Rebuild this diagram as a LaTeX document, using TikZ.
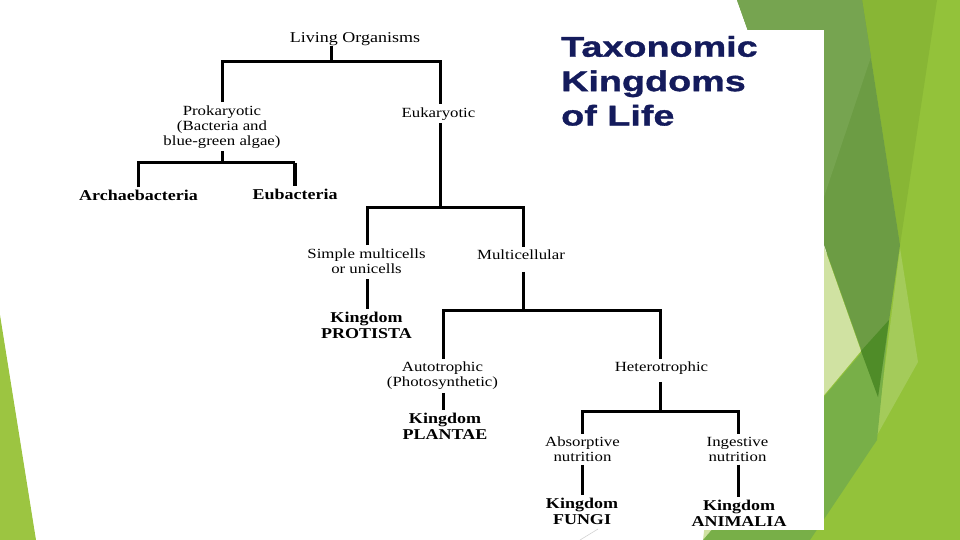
\documentclass[tikz,border=0pt]{standalone}
\usepackage{fontspec}
\newfontfamily\dgm[FakeStretch=1.2]{Liberation Serif}
\newfontfamily\ttlfont[FakeStretch=1.32,BoldFeatures={FakeBold=1.2}]{Liberation Sans}
\newcommand\tightlines{\lineskiplimit=-50pt\relax\lineskip=0pt\relax}
\definecolor{cBase}{HTML}{93C23A}
\definecolor{cV}{HTML}{88B635}
\definecolor{cOlive}{HTML}{6C9C44}
\definecolor{cOliveL}{HTML}{76A450}
\definecolor{cPale}{HTML}{D0E2A2}
\definecolor{cLight}{HTML}{A4CB5A}
\definecolor{cMed}{HTML}{78AF48}
\definecolor{cDark}{HTML}{4F8C28}
\definecolor{cLeft}{HTML}{9CC541}
\definecolor{cNavy}{HTML}{141B5C}
\begin{document}
\begin{tikzpicture}[x=1pt,y=-1pt,
  lbl/.style={font=\dgm\fontsize{14}{15}\selectfont, align=center, inner sep=3pt},
  kbox/.style={font=\dgm\bfseries\fontsize{15}{16}\selectfont, align=center, inner sep=3pt},
  conn/.style={draw=black, line width=3pt, line join=miter}]
\useasboundingbox (0,0) rectangle (960,540);
% slide decoration facets
\fill[cBase] (840,0) -- (960,0) -- (960,540) -- (805,540) -- (824,300) -- cycle;
\fill[cPale] (758,60) -- (861,351) -- (703,540) -- cycle;
\fill[cLight] (900,248) -- (918,362) -- (876,437) -- cycle;
\fill[cMed] (703,540) -- (889,320) -- (877,440) -- (810,540) -- cycle;
\fill[cV] (862,0) -- (937,0) -- (900,245) -- cycle;
\fill[cOlive] (737,0) -- (862,0) -- (900,245) -- (878,397) -- cycle;
\fill[cOliveL] (737,0) -- (862,0) -- (871,57) -- (823,200) -- (808,200) -- cycle;
\fill[cDark] (861,351) -- (889,320) -- (878,397) -- cycle;
\fill[white] (690,30) rectangle (824,530);
\fill[cLeft] (0,315) -- (36,540) -- (0,540) -- cycle;
\draw[gray!35, line width=0.6pt] (580,540) -- (598,529);
% title
\node[anchor=north west, inner sep=0pt, align=left, text=cNavy,
  font=\ttlfont\bfseries\fontsize{28.6}{34.4}\selectfont\tightlines]
  (title) at (561,35.8) {Taxonomic\\Kingdoms\\of Life};
% nodes
\node[lbl, font=\dgm\fontsize{15}{16}\selectfont, inner sep=1pt] (living) at (355,38.7) {Living Organisms};
\node[lbl] (pro) at (222,126.7) {Prokaryotic\\(Bacteria and\\blue-green algae)};
\node[lbl] (euk) at (438.5,113.7) {Eukaryotic};
\node[kbox] (arch) at (138.5,195.8) {Archaebacteria};
\node[kbox] (eub) at (295,194.2) {Eubacteria};
\node[lbl] (simple) at (366.5,260.8) {Simple multicells\\or unicells};
\node[lbl] (multi) at (521,254.7) {Multicellular};
\node[kbox] (prot) at (366.5,325) {Kingdom\\PROTISTA};
\node[lbl] (auto) at (442.5,375.8) {Autotrophic\\(Photosynthetic)};
\node[lbl] (het) at (661.5,368.3) {Heterotrophic};
\node[kbox] (plan) at (445,426.7) {Kingdom\\PLANTAE};
\node[lbl] (abs) at (582.5,449.2) {Absorptive\\nutrition};
\node[lbl] (ing) at (737.5,449.2) {Ingestive\\nutrition};
\node[kbox] (fungi) at (582,511.3) {Kingdom\\FUNGI};
\node[kbox] (anim) at (739,513) {Kingdom\\ANIMALIA};
% junction coordinates
\coordinate (b1m) at (331,62);
\coordinate (b1l) at (222,62);
\coordinate (b1r) at (440,62);
\coordinate (b2l) at (138,163);
\coordinate (b2r) at (295,163);
\coordinate (b3l) at (367,207);
\coordinate (b3r) at (523,207);
\coordinate (b4l) at (443,310);
\coordinate (b4r) at (660,310);
\coordinate (b5l) at (582,411);
\coordinate (b5r) at (738,411);
% connectors
\draw[conn] (b1m |- living.south) -- (b1m);
\draw[conn] (b1l |- pro.north) -- (b1l) -- (b1r) -- (b1r |- euk.north);
\draw[conn] (b1l |- pro.south) -- (b1l |- b2l);
\draw[conn] (b2l |- arch.north) -- (b2l) -- (b2r);
\draw[conn, line width=4pt] (b2r) -- (b2r |- eub.north);
\draw[conn] (b1r |- euk.south) -- (b1r |- b3l);
\draw[conn] (b3l |- simple.north) -- (b3l) -- (b3r) -- (b3r |- multi.north);
\draw[conn, shorten <=3pt] (b3l |- simple.south) -- (b3l |- prot.north);
\draw[conn, shorten <=9pt] (b3r |- multi.south) -- (b3r |- b4l);
\draw[conn] (b4l |- auto.north) -- (b4l) -- (b4r) -- (b4r |- het.north);
\draw[conn] (b4l |- auto.south) -- (b4l |- plan.north);
\draw[conn, shorten <=4pt] (b4r |- het.south) -- (b4r |- b5l);
\draw[conn] (b5l |- abs.north) -- (b5l) -- (b5r) -- (b5r |- ing.north);
\draw[conn] (b5l |- abs.south) -- (b5l |- fungi.north);
\draw[conn] (b5r |- ing.south) -- (b5r |- anim.north);
\end{tikzpicture}
\end{document}
